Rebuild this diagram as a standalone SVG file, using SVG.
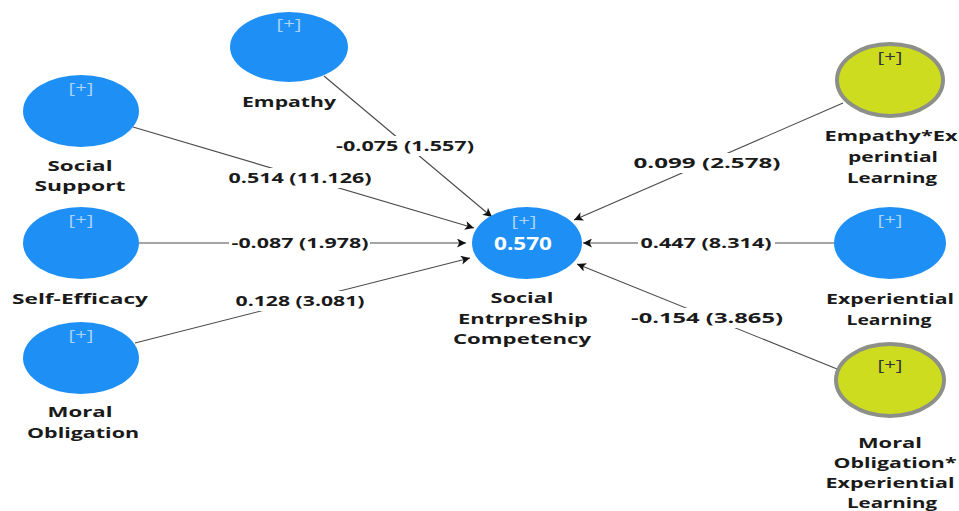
<svg xmlns="http://www.w3.org/2000/svg" width="959" height="511" viewBox="0 0 959 511">
<defs>
<marker id="arr" viewBox="0 0 10 10" refX="10" refY="5" markerWidth="11" markerHeight="9" markerUnits="userSpaceOnUse" orient="auto">
<path d="M0,0 L10,5 L0,10 L2.5,5 Z" fill="#111"/>
</marker>
<style>
.blue{fill:#1e90f5}
.mod{fill:#cddc1e;stroke:#8c9088;stroke-width:4}
.lbl{font-family:"Open Sans","DejaVu Sans",sans-serif;font-weight:bold;font-size:15px;fill:#1a1a1a;text-anchor:middle}
.plus{font-family:"Open Sans","DejaVu Sans",sans-serif;font-size:14px;text-anchor:middle}
.pb{fill:#a9d3fb}
.pd{fill:#333}
.big{font-family:"Open Sans","DejaVu Sans",sans-serif;font-weight:bold;font-size:17px;fill:#ffffff;text-anchor:middle}
.edge{stroke:#4a4a4a;stroke-width:1.1;fill:none;marker-end:url(#arr)}
.bg{fill:#ffffff}
</style>
</defs>
<rect width="959" height="511" fill="#ffffff"/>
<g id="connectors">
<line class="edge" x1="324" y1="76" x2="492" y2="217"/>
<line class="edge" x1="133" y1="127" x2="474" y2="228"/>
<line class="edge" x1="139" y1="243" x2="466" y2="243"/>
<line class="edge" x1="135" y1="343" x2="470" y2="258"/>
<line class="edge" x1="843" y1="103" x2="574" y2="220"/>
<line class="edge" x1="834" y1="243" x2="583" y2="243"/>
<line class="edge" x1="842" y1="371" x2="577" y2="264"/>
<g id="edge-labels">
<rect class="bg" x="334" y="136" width="142" height="20"/>
<text class="lbl" x="405" y="151" textLength="138" lengthAdjust="spacingAndGlyphs">-0.075 (1.557)</text>
<rect class="bg" x="227" y="168" width="147" height="20"/>
<text class="lbl" x="300" y="183" textLength="143" lengthAdjust="spacingAndGlyphs">0.514 (11.126)</text>
<rect class="bg" x="229" y="233" width="141" height="20"/>
<text class="lbl" x="300" y="248" textLength="137" lengthAdjust="spacingAndGlyphs">-0.087 (1.978)</text>
<rect class="bg" x="233" y="291" width="133" height="20"/>
<text class="lbl" x="300" y="306" textLength="129" lengthAdjust="spacingAndGlyphs">0.128 (3.081)</text>
<rect class="bg" x="631" y="153" width="152" height="20"/>
<text class="lbl" x="707" y="168" textLength="147" lengthAdjust="spacingAndGlyphs">0.099 (2.578)</text>
<rect class="bg" x="638" y="233" width="137" height="20"/>
<text class="lbl" x="706" y="248" textLength="131" lengthAdjust="spacingAndGlyphs">0.447 (8.314)</text>
<rect class="bg" x="628" y="308" width="158" height="20"/>
<text class="lbl" x="707" y="323" textLength="152" lengthAdjust="spacingAndGlyphs">-0.154 (3.865)</text>
</g>
</g>
<g id="empathy">
<ellipse class="blue" cx="289" cy="47" rx="59" ry="35"/>
<text class="plus pb" x="289" y="29" textLength="25" lengthAdjust="spacingAndGlyphs">[+]</text>
<text class="lbl" x="289" y="107" textLength="94" lengthAdjust="spacingAndGlyphs">Empathy</text>
</g>
<g id="social-support">
<ellipse class="blue" cx="81" cy="111" rx="58" ry="36"/>
<text class="plus pb" x="81" y="93" textLength="25" lengthAdjust="spacingAndGlyphs">[+]</text>
<text class="lbl" x="80" y="171" textLength="65" lengthAdjust="spacingAndGlyphs">Social</text>
<text class="lbl" x="80" y="191" textLength="91" lengthAdjust="spacingAndGlyphs">Support</text>
</g>
<g id="self-efficacy">
<ellipse class="blue" cx="81" cy="243" rx="58" ry="36"/>
<text class="plus pb" x="81" y="225" textLength="25" lengthAdjust="spacingAndGlyphs">[+]</text>
<text class="lbl" x="80" y="304" textLength="136" lengthAdjust="spacingAndGlyphs">Self-Efficacy</text>
</g>
<g id="moral-obligation">
<ellipse class="blue" cx="81" cy="358" rx="58" ry="36"/>
<text class="plus pb" x="81" y="340" textLength="25" lengthAdjust="spacingAndGlyphs">[+]</text>
<text class="lbl" x="80" y="417" textLength="65" lengthAdjust="spacingAndGlyphs">Moral</text>
<text class="lbl" x="83" y="438" textLength="112" lengthAdjust="spacingAndGlyphs">Obligation</text>
</g>
<g id="social-entrepreship-competency">
<ellipse class="blue" cx="527" cy="243" rx="55" ry="36"/>
<text class="plus pb" x="524" y="226" textLength="25" lengthAdjust="spacingAndGlyphs">[+]</text>
<text class="big" x="523" y="250" textLength="58" lengthAdjust="spacingAndGlyphs">0.570</text>
<text class="lbl" x="522" y="303" textLength="63" lengthAdjust="spacingAndGlyphs">Social</text>
<text class="lbl" x="523" y="324" textLength="130" lengthAdjust="spacingAndGlyphs">EntrpreShip</text>
<text class="lbl" x="522" y="344" textLength="138" lengthAdjust="spacingAndGlyphs">Competency</text>
</g>
<g id="empathy-experiential-learning">
<ellipse class="mod" cx="890" cy="80" rx="53" ry="36"/>
<text class="plus pd" x="890" y="62" textLength="25" lengthAdjust="spacingAndGlyphs">[+]</text>
<text class="lbl" x="891" y="141" textLength="133" lengthAdjust="spacingAndGlyphs">Empathy*Ex</text>
<text class="lbl" x="893" y="162" textLength="90" lengthAdjust="spacingAndGlyphs">perintial</text>
<text class="lbl" x="892" y="183" textLength="90" lengthAdjust="spacingAndGlyphs">Learning</text>
</g>
<g id="experiential-learning">
<ellipse class="blue" cx="890" cy="243" rx="56" ry="36"/>
<text class="plus pb" x="890" y="225" textLength="25" lengthAdjust="spacingAndGlyphs">[+]</text>
<text class="lbl" x="890" y="304" textLength="128" lengthAdjust="spacingAndGlyphs">Experiential</text>
<text class="lbl" x="889" y="325" textLength="85" lengthAdjust="spacingAndGlyphs">Learning</text>
</g>
<g id="moral-obligation-experiential-learning">
<ellipse class="mod" cx="890" cy="380" rx="54" ry="36"/>
<text class="plus pd" x="890" y="370" textLength="25" lengthAdjust="spacingAndGlyphs">[+]</text>
<text class="lbl" x="890" y="448" textLength="64" lengthAdjust="spacingAndGlyphs">Moral</text>
<text class="lbl" x="895" y="468" textLength="123" lengthAdjust="spacingAndGlyphs">Obligation*</text>
<text class="lbl" x="890" y="488" textLength="129" lengthAdjust="spacingAndGlyphs">Experiential</text>
<text class="lbl" x="892" y="508" textLength="90" lengthAdjust="spacingAndGlyphs">Learning</text>
</g>
</svg>
